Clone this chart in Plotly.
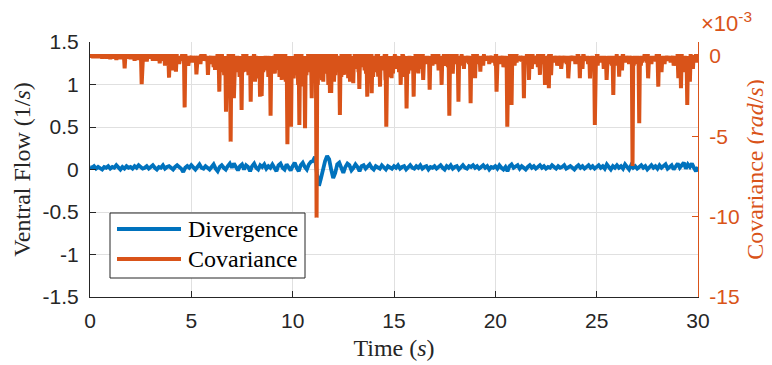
import plotly.graph_objects as go

# ---------------- data ----------------
# Divergence (ventral flow, 1/s) sampled every 0.1 s from 0 to 30 s
div_t = [round(i * 0.1, 1) for i in range(301)]
div_v = [
    0.03, 0.02, 0.04, 0.01, 0.03, 0.02, 0.00, 0.03, 0.02, 0.04,
    0.01, 0.03, 0.02, 0.05, 0.02, 0.00, 0.03, 0.01, 0.04, 0.02,
    0.03, 0.01, 0.04, 0.02, 0.05, 0.03, 0.01, 0.02, 0.04, 0.01,
    0.03, 0.05, 0.02, 0.00, 0.03, 0.02, 0.05, 0.01, 0.03, 0.04,
    0.02, 0.00, 0.03, 0.05, 0.03, 0.01, -0.03, 0.02, 0.04, 0.02,
    0.05, 0.02, 0.00, 0.03, 0.06, 0.02, 0.01, 0.04, 0.02, 0.00,
    0.03, 0.06, 0.01, -0.02, 0.03, 0.05, 0.02, 0.00, 0.04, 0.07,
    0.02, 0.07, 0.03, -0.01, 0.04, 0.06, 0.00, 0.05, 0.03, -0.02,
    0.04, 0.07, 0.02, 0.00, 0.05, 0.03, 0.06, 0.01, 0.04, 0.02,
    0.06, 0.01, -0.02, 0.05, 0.07, 0.02, 0.00, 0.06, 0.03, -0.01,
    0.04, 0.08, 0.02, -0.02, 0.05, 0.08, 0.03, 0.00, 0.06, 0.09,
    0.10, 0.15, -0.05, -0.19, -0.10, 0.02, 0.10, 0.16, 0.12, 0.00,
    -0.10, -0.04, 0.06, 0.08, 0.02, -0.04, 0.03, 0.07, 0.05, -0.01,
    0.02, 0.06, 0.03, -0.02, 0.04, 0.05, 0.01, 0.03, 0.06, 0.02,
    0.00, 0.04, 0.03, 0.01, 0.05, 0.02, 0.00, 0.04, 0.03, 0.01,
    0.04, 0.02, 0.05, 0.01, 0.03, 0.04, 0.00, 0.03, 0.05, 0.02,
    0.01, 0.04, 0.02, 0.05, 0.01, 0.03, 0.04, 0.00, 0.03, 0.02,
    0.04, 0.01, 0.03, 0.05, 0.02, 0.00, 0.04, 0.02, 0.05, 0.01,
    0.03, 0.04, 0.00, 0.03, 0.05, 0.02, 0.01, 0.04, 0.03, 0.05,
    0.02, 0.04, 0.01, 0.03, 0.05, 0.02, 0.04, 0.00, 0.03, 0.02,
    0.04, 0.01, 0.05, 0.02, 0.00, 0.03, -0.02, 0.04, 0.06, 0.02,
    0.03, 0.05, 0.01, 0.04, 0.02, 0.00, 0.03, 0.05, 0.02, 0.04,
    0.01, 0.03, 0.05, 0.02, 0.04, 0.01, 0.03, 0.02, 0.05, 0.03,
    0.01, 0.04, 0.02, 0.03, 0.05, 0.01, 0.03, 0.04, 0.02, 0.00,
    0.03, 0.05, 0.02, 0.04, 0.01, 0.03, 0.05, 0.02, 0.04, 0.01,
    0.03, 0.05, 0.02, 0.04, 0.01, 0.06, 0.03, 0.00, 0.04, 0.02,
    0.05, 0.02, 0.04, 0.01, 0.06, 0.03, 0.00, 0.05, 0.02, 0.04,
    0.01, 0.03, 0.05, 0.02, 0.04, 0.00, 0.03, 0.05, 0.02, 0.04,
    0.01, 0.05, 0.02, 0.04, 0.06, 0.01, 0.03, 0.05, 0.00, 0.04,
    0.07, 0.02, 0.05, 0.08, 0.01, 0.06, 0.03, 0.07, 0.02, -0.02,
    0.03,
]

# Covariance (rad/s, in units of 1e-3): major spike times / minima
cov_spike_t = [
    0.3, 0.6, 1.0, 1.3, 1.71, 2.0, 2.2, 2.55, 2.8, 3.1, 3.44, 3.7, 3.9, 4.05, 4.24,
    4.4, 4.67, 4.85, 5.05, 5.25, 5.45, 5.6, 5.82, 6.0, 6.17, 6.38, 6.55, 6.71, 6.94,
    7.1, 7.3, 7.48, 7.6, 7.73, 7.93, 8.14, 8.39, 8.55, 8.7, 8.91, 9.05, 9.21, 9.35,
    9.46, 9.6, 9.74, 9.92, 10.11, 10.2, 10.33, 10.45, 10.61, 10.75, 10.85, 10.94,
    11.05, 11.18, 11.3, 11.4, 11.51, 11.65, 11.76, 11.84, 12.04, 12.15, 12.33, 12.45,
    12.53, 12.64, 12.74, 12.83, 12.99, 13.1, 13.2, 13.29, 13.45, 13.55, 13.68, 13.8,
    13.9, 14.05, 14.22, 14.31, 14.45, 14.62, 14.8, 14.88, 15.0, 15.15, 15.33, 15.45,
    15.62, 15.8, 15.97, 16.1, 16.2, 16.32, 16.44, 16.6, 16.76, 16.9, 17.0, 17.1,
    17.2, 17.35, 17.5, 17.73, 17.9, 18.05, 18.18, 18.3, 18.45, 18.6, 18.78, 18.9,
    19.0, 19.1, 19.26, 19.4, 19.55, 19.7, 19.85, 20.06, 20.25, 20.4, 20.59, 20.8,
    20.95, 21.05, 21.2, 21.41, 21.55, 21.66, 21.8, 21.95, 22.1, 22.2, 22.32, 22.45,
    22.64, 22.75, 22.9, 23.05, 23.25, 23.45, 23.6, 23.8, 23.95, 24.17, 24.3, 24.5,
    24.67, 24.91, 25.05, 25.2, 25.35, 25.49, 25.65, 25.82, 25.95, 26.11, 26.25,
    26.45, 26.6, 26.77, 26.9, 27.1, 27.25, 27.4, 27.54, 27.7, 27.85, 28.04, 28.2,
    28.35, 28.5, 28.65, 28.8, 29.03, 29.16, 29.3, 29.47, 29.6, 29.75, 29.9,
]
cov_spike_v = [
    -0.1, -0.15, -0.2, -0.25, -0.77, -0.2, -0.3, -1.76, -0.35, -0.3, -0.45, -0.6, -1.35, -0.9, -0.97,
    -0.5, -3.2, -0.6, -0.4, -1.14, -0.5, -0.3, -1.18, -0.5, -0.87, -2.22, -0.6, -3.47, -5.33,
    -2.63, -0.8, -3.36, -0.5, -0.97, -2.84, -1.6, -2.53, -1.0, -0.6, -3.72, -0.5, -0.87, -1.3,
    -1.49, -0.7, -5.5, -4.4, -0.56, -1.2, -4.29, -0.8, -4.5, -1.0, -0.35, -2.63,
    -0.6, -10.06, -1.0, -0.7, -1.6, -0.5, -1.8, -2.3, -1.6, -0.6, -3.67, -0.5,
    -1.18, -0.4, -1.39, -1.6, -1.7, -0.4, -0.8, -2.05, -0.3, -0.9, -2.53, -0.5,
    -2.32, -0.6, -1.29, -1.91, -0.5, -4.4, -1.3, -1.39, -0.3, -0.6, -1.8, -0.9,
    -3.26, -0.7, -2.53, -0.6, -1.08, -0.8, -1.49, -0.5, -2.1, -0.6, -0.3, -0.5,
    -0.9, -1.8, -0.6, -3.72, -1.1, -0.5, -2.84, -0.6, -0.8, -0.4, -2.94, -0.5,
    -1.39, -0.4, -0.98, -0.6, -0.3, -0.5, -0.4, -2.22, -0.5, -0.7, -4.4, -3.05,
    -0.6, -0.4, -0.3, -2.63, -0.5, -1.49, -0.8, -0.5, -0.7, -1.18, -0.4, -1.8,
    -2.0, -1.2, -0.4, -0.6, -0.8, -0.4, -1.39, -0.3, -0.5, -1.39, -0.8, -0.3,
    -1.4, -4.29, -0.6, -0.4, -0.8, -1.49, -0.5, -2.43, -0.6, -1.29, -0.9,
    -0.4, -0.5, -6.85, -0.3, -4.19, -0.4, -0.3, -1.39, -0.5, -0.3, -1.91, -1.0,
    -0.5, -0.3, -0.4, -0.6, -1.39, -2.0, -1.0, -3.05, -1.6, -0.8, -0.4,
]
# Covariance: minor spikes that make up the fringe near zero
cov_minor_t = [
    0.15, 0.45, 0.8, 1.15, 1.5, 1.85, 2.35, 2.65, 2.95, 3.25, 3.55, 3.8,
    4.1, 4.3, 4.5, 4.75, 4.95, 5.15, 5.35, 5.7, 5.9,
    6.1, 6.25, 6.45, 6.62, 6.8, 7.02, 7.2, 7.38, 7.55, 7.68, 7.82, 7.98,
    8.05, 8.22, 8.3, 8.47, 8.62, 8.8, 8.98, 9.12, 9.28, 9.4, 9.53, 9.66, 9.82, 9.98,
    10.05, 10.27, 10.4, 10.52, 10.68, 10.8, 11.0, 11.12, 11.24, 11.35, 11.45, 11.58, 11.7, 11.9, 11.98,
    12.1, 12.25, 12.4, 12.58, 12.69, 12.78, 12.9, 13.05, 13.15, 13.25, 13.35, 13.5, 13.62, 13.74, 13.85, 13.97,
    14.12, 14.18, 14.38, 14.52, 14.58, 14.7, 14.95, 15.08, 15.25, 15.4, 15.52, 15.7, 15.88, 16.04,
    16.15, 16.27, 16.38, 16.52, 16.68, 16.83, 16.95, 17.05, 17.15, 17.28, 17.42, 17.6, 17.66, 17.8, 17.97,
    18.1, 18.24, 18.38, 18.52, 18.7, 18.84, 18.95, 19.05, 19.18, 19.33, 19.48, 19.62, 19.78, 19.92,
    20.0, 20.15, 20.32, 20.5, 20.68, 20.87, 21.0, 21.12, 21.3, 21.48, 21.6, 21.73, 21.88,
    22.02, 22.15, 22.27, 22.38, 22.52, 22.58, 22.7, 22.83, 22.97, 23.15, 23.35, 23.52, 23.7, 23.88,
    24.05, 24.1, 24.23, 24.4, 24.58, 24.75, 24.82, 25.0, 25.12, 25.28, 25.42, 25.58, 25.75, 25.88,
    26.03, 26.18, 26.35, 26.52, 26.68, 26.83, 26.97, 27.03, 27.18, 27.32, 27.48, 27.62, 27.78, 27.92,
    28.1, 28.28, 28.42, 28.58, 28.72, 28.9, 28.97, 29.1, 29.22, 29.38, 29.53, 29.68, 29.82, 29.95,
]
cov_minor_v = [
    -0.1, -0.1, -0.15, -0.15, -0.2, -0.15, -0.25, -0.2, -0.15, -0.3, -0.3, -0.6,
    -0.4, -0.5, -0.3, -0.3, -0.2, -0.4, -0.3, -0.3, -0.4,
    -0.7, -0.5, -1.0, -1.2, -0.9, -1.5, -1.0, -1.3, -1.0, -0.6, -1.2, -0.8,
    -1.0, -0.8, -1.4, -2.5, -0.9, -1.3, -0.9, -1.1, -0.7, -1.0, -0.8, -1.6, -2.2, -1.2,
    -1.4, -1.8, -1.5, -1.9, -1.2, -0.8, -1.4, -1.2, -1.8, -1.3, -1.5, -1.0, -1.1, -2.3, -1.0,
    -1.2, -0.8, -1.3, -0.7, -1.0, -1.2, -1.0, -0.6, -0.5, -1.0, -0.7, -0.5, -1.1, -0.9, -1.0, -1.3,
    -0.8, -1.0, -0.9, -0.7, -1.5, -1.2, -1.1, -0.8, -1.0, -1.3, -0.8, -1.1, -0.9, -1.0,
    -0.35, -0.4, -0.5, -0.4, -0.5, -0.4, -0.3, -0.25, -0.4, -0.6, -0.5, -0.4, -0.7, -0.6, -0.35,
    -0.5, -0.6, -0.3, -0.35, -0.5, -0.5, -0.35, -0.5, -0.3, -0.35, -0.25, -0.3, -0.2, -0.35,
    -0.6, -0.35, -0.3, -0.5, -0.8, -0.6, -0.3, -0.25, -0.35, -0.5, -0.5, -0.4, -0.35,
    -0.3, -0.5, -0.4, -0.5, -0.6, -0.8, -0.5, -0.35, -0.3, -0.3, -0.35, -0.5, -0.3, -0.25,
    -0.35, -0.5, -0.4, -0.3, -0.5, -0.5, -0.8, -0.5, -0.3, -0.35, -0.5, -0.4, -0.6, -0.5,
    -0.4, -0.5, -0.35, -0.25, -0.35, -0.6, -0.35, -0.5, -0.6, -0.3, -0.4, -0.35, -0.25, -0.35,
    -0.5, -0.35, -0.3, -0.25, -0.3, -0.5, -0.6, -0.8, -0.9, -0.7, -1.1, -0.6, -0.35, -0.2,
]

x_ticks = [0, 5, 10, 15, 20, 25, 30]
left_ticks = [-1.5, -1, -0.5, 0, 0.5, 1, 1.5]
left_tick_text = ["-1.5", "-1", "-0.5", "0", "0.5", "1", "1.5"]
right_ticks = [-15, -10, -5, 0]
right_tick_text = ["-15", "-10", "-5", "0"]
series_names = ["Divergence", "Covariance"]

BLUE = "#0072BD"
ORANGE = "#D95319"
DARK = "#262626"
GRID = "#e0e0e0"

# Build the covariance line: baseline at 0 with a narrow spike at each event
events = sorted(zip(cov_spike_t + cov_minor_t, cov_spike_v + cov_minor_v))
half_w = 0.035
cov_x = [0.0]
cov_y = [0.0]
for t, v in events:
    cov_x += [t - half_w, t, t + half_w]
    cov_y += [0.0, v, 0.0]
cov_x.append(30.0)
cov_y.append(0.0)

fig = go.Figure()
fig.add_trace(go.Scatter(
    x=div_t, y=div_v, mode="lines", name=series_names[0],
    line=dict(color=BLUE, width=3.8), yaxis="y", showlegend=False,
))
fig.add_trace(go.Scatter(
    x=cov_x, y=cov_y, mode="lines", name=series_names[1],
    line=dict(color=ORANGE, width=4.0), yaxis="y2", showlegend=False,
))

serif = "Liberation Serif"
sans = "Liberation Sans"

# The page body has an 8 px margin; the plot area should land at page px x 90..698, y 42..297
def px_x(p):
    return (p - 90) / 608.0

def px_y(p):
    return (297 - p) / 255.0

shapes = [
    dict(type="rect", xref="paper", yref="paper",
         x0=px_x(110), x1=px_x(305), y0=px_y(278), y1=px_y(213),
         line=dict(color=DARK, width=1), fillcolor="white", layer="above"),
    dict(type="line", xref="paper", yref="paper",
         x0=px_x(117), x1=px_x(181), y0=px_y(229), y1=px_y(229),
         line=dict(color=BLUE, width=3.8), layer="above"),
    dict(type="line", xref="paper", yref="paper",
         x0=px_x(117), x1=px_x(181), y0=px_y(259), y1=px_y(259),
         line=dict(color=ORANGE, width=3.8), layer="above"),
]
annotations = [
    dict(xref="paper", yref="paper", x=px_x(186), y=px_y(229),
         xanchor="left", yanchor="middle", showarrow=False,
         text=series_names[0], font=dict(family=serif, size=24, color="black")),
    dict(xref="paper", yref="paper", x=px_x(186), y=px_y(259),
         xanchor="left", yanchor="middle", showarrow=False,
         text=series_names[1], font=dict(family=serif, size=24, color="black")),
    dict(xref="paper", yref="paper", x=px_x(699), y=px_y(22),
         xanchor="left", yanchor="middle", showarrow=False,
         text="×10<sup>-3</sup>", font=dict(family=sans, size=22, color=ORANGE)),
]

fig.update_layout(
    width=764, height=357,
    margin=dict(l=82, r=74, t=34, b=68, autoexpand=False),
    paper_bgcolor="white", plot_bgcolor="white",
    showlegend=False,
    shapes=shapes,
    annotations=annotations,
    xaxis=dict(
        range=[0, 30], tickvals=x_ticks, ticktext=[str(v) for v in x_ticks],
        showgrid=True, gridcolor=GRID, gridwidth=1, zeroline=False,
        showline=True, linecolor=DARK, linewidth=1.2,
        ticks="inside", ticklen=6, tickcolor=DARK, tickwidth=1,
        tickfont=dict(family=sans, size=21, color=DARK),
        ticklabelstandoff=5, automargin=False,
        title=dict(text="Time (<i>s</i>)", font=dict(family=serif, size=24, color=DARK), standoff=7),
    ),
    yaxis=dict(
        range=[-1.5, 1.5], tickvals=left_ticks, ticktext=left_tick_text,
        showgrid=True, gridcolor=GRID, gridwidth=1, zeroline=False,
        showline=True, linecolor=DARK, linewidth=1.2,
        ticks="inside", ticklen=6, tickcolor=DARK, tickwidth=1,
        tickfont=dict(family=sans, size=21, color=DARK),
        ticklabelstandoff=6, automargin=False,
        title=dict(text="Ventral Flow (1/<i>s</i>)", font=dict(family=serif, size=24, color=DARK), standoff=5),
    ),
    yaxis2=dict(
        range=[-15, 0.87], tickvals=right_ticks, ticktext=right_tick_text,
        overlaying="y", side="right", showgrid=False, zeroline=False,
        showline=True, linecolor=ORANGE, linewidth=1.2,
        ticks="inside", ticklen=6, tickcolor=ORANGE, tickwidth=1,
        tickfont=dict(family=sans, size=21, color=ORANGE),
        ticklabelstandoff=6, automargin=False,
        title=dict(text="Covariance (<i>rad</i>/<i>s</i>)", font=dict(family=serif, size=24, color=ORANGE), standoff=7),
    ),
)

fig.write_html("out.html")
